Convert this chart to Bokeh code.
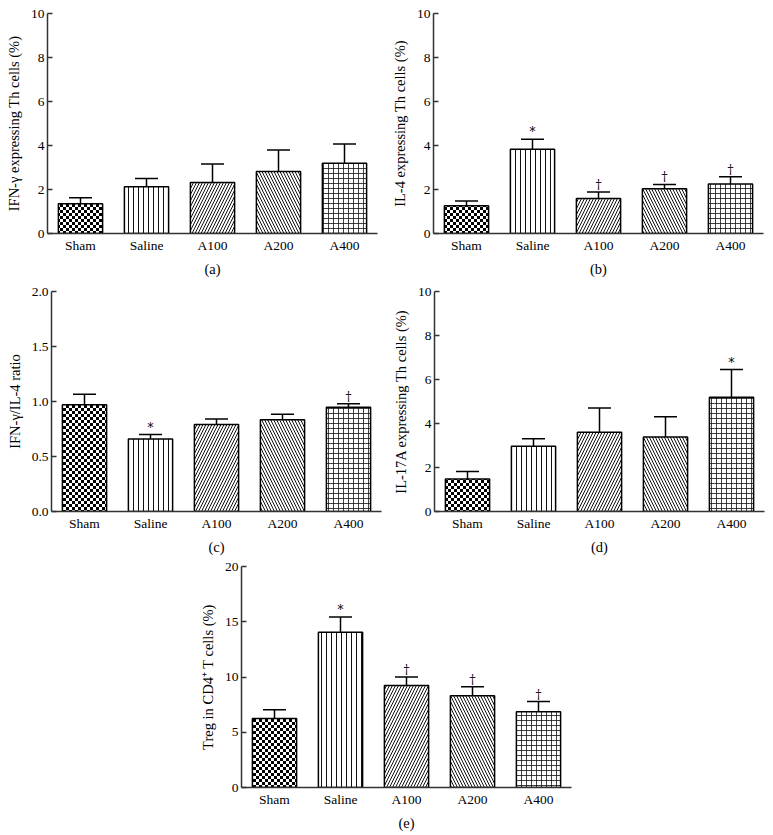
import base64
import struct
import zlib

from bokeh.plotting import figure
from bokeh.models import (ColumnDataSource, Whisker, TeeHead, FixedTicker, NumeralTickFormatter,
                          Range1d, Spacer, ImageURLTexture)
from bokeh.layouts import row, column
from bokeh.core.properties import value
from bokeh.embed import file_html
from bokeh.resources import INLINE

groups = ["Sham", "Saline", "A100", "A200", "A400"]

# (a) IFN-gamma expressing Th cells (%)
a_mean = [1.35, 2.12, 2.32, 2.82, 3.19]
a_upper = [1.62, 2.50, 3.16, 3.79, 4.07]
a_marks = ["", "", "", "", ""]

# (b) IL-4 expressing Th cells (%)
b_mean = [1.26, 3.83, 1.59, 2.03, 2.25]
b_upper = [1.48, 4.28, 1.89, 2.23, 2.58]
b_marks = ["", "*", "†", "†", "†"]

# (c) IFN-gamma / IL-4 ratio
c_mean = [0.97, 0.66, 0.79, 0.835, 0.948]
c_upper = [1.067, 0.70, 0.84, 0.885, 0.98]
c_marks = ["", "*", "", "", "†"]

# (d) IL-17A expressing Th cells (%)
d_mean = [1.48, 2.97, 3.60, 3.39, 5.19]
d_upper = [1.82, 3.31, 4.71, 4.31, 6.45]
d_marks = ["", "", "", "", "*"]

# (e) Treg in CD4+ T cells (%)
e_mean = [6.24, 14.06, 9.23, 8.30, 6.85]
e_upper = [7.03, 15.44, 10.00, 9.11, 7.78]
e_marks = ["", "*", "†", "†", "†"]

# bar fill styles (one per group)
patterns = ["checker", "|", "/", "\\", "+"]
hatch_scales = [6, 5, 6, 6, 5]
hatch_weights = [1, 1, 1, 1, 0.8]

FONT = "Liberation Serif"


def checker_png(cell=3):
    n = 2 * cell
    rows = []
    for j in range(n):
        rows.append(bytes([0 if ((i // cell) + (j // cell)) % 2 == 0 else 255 for i in range(n)]))
    raw = b"".join(b"\x00" + r for r in rows)

    def chunk(tag, data):
        c = tag + data
        return struct.pack(">I", len(data)) + c + struct.pack(">I", zlib.crc32(c) & 0xffffffff)

    png = b"\x89PNG\r\n\x1a\n" + chunk(b"IHDR", struct.pack(">IIBBBBB", n, n, 8, 0, 0, 0, 0)) \
        + chunk(b"IDAT", zlib.compress(raw)) + chunk(b"IEND", b"")
    return "data:image/png;base64," + base64.b64encode(png).decode()


CHECKER_URL = checker_png(3)


def panel(means, uppers, marks, ylabel, letter, ymax, ticks, fmt,
          fh, bl, br, bt, bb):
    src = ColumnDataSource(dict(x=groups, val=means, up=uppers, mark=marks,
                                pat=patterns, hs=hatch_scales, hw=hatch_weights))
    p = figure(x_range=groups, y_range=Range1d(0, ymax), frame_width=330, frame_height=fh,
               output_backend="svg", toolbar_location=None,
               min_border_left=bl, min_border_right=br, min_border_top=bt, min_border_bottom=bb)
    p.x_range.range_padding = 0
    p.vbar(x="x", top="val", width=0.67, source=src, fill_color="white",
           line_color="black", line_width=1.5, hatch_pattern="pat",
           hatch_scale="hs", hatch_weight="hw", hatch_color="#111111",
           hatch_extra={"checker": ImageURLTexture(url=CHECKER_URL, repetition="repeat")})
    w = Whisker(base="x", upper="up", lower="val", source=src, dimension="height",
                line_color="black", line_width=1.5,
                upper_head=TeeHead(size=23, line_color="black", line_width=1.5),
                lower_head=None)
    p.add_layout(w)
    p.text(x="x", y="up", text="mark", source=src, text_align="center",
           text_baseline="bottom", y_offset=0, text_font=value("DejaVu Serif"),
           text_font_size="12px", text_color="black")
    p.xgrid.visible = False
    p.ygrid.visible = False
    p.outline_line_color = None
    p.background_fill_color = "white"
    p.border_fill_color = "white"

    p.yaxis.ticker = FixedTicker(ticks=ticks)
    if fmt:
        p.yaxis.formatter = NumeralTickFormatter(format=fmt)
    for ax in (p.xaxis, p.yaxis):
        ax.axis_line_color = "#333333"
        ax.axis_line_width = 1.5
        ax.major_label_text_font = FONT
        ax.major_label_text_font_size = "13.5px"
        ax.major_label_text_color = "black"
        ax.axis_label_text_font = FONT
        ax.axis_label_text_font_size = "14.5px"
        ax.axis_label_text_font_style = "normal"
        ax.axis_label_text_color = "black"
        ax.minor_tick_line_color = None
    p.yaxis.major_tick_in = 5
    p.yaxis.major_tick_out = 0
    p.yaxis.major_tick_line_color = "#333333"
    p.yaxis.major_tick_line_width = 1.5
    p.yaxis.major_label_standoff = 3
    p.yaxis.axis_label = ylabel
    p.yaxis.axis_label_standoff = 6
    p.xaxis.major_tick_line_color = None
    p.xaxis.major_tick_in = 0
    p.xaxis.major_tick_out = 0
    p.xaxis.major_label_standoff = 4
    p.xaxis.axis_label = letter
    p.xaxis.axis_label_standoff = 5
    return p


pa = panel(a_mean, a_upper, a_marks, "IFN-γ expressing Th cells (%)", "(a)", 10,
           [0, 2, 4, 6, 8, 10], None, 220, 47, 10, 13, 52)
pb = panel(b_mean, b_upper, b_marks, "IL-4 expressing Th cells (%)", "(b)", 10,
           [0, 2, 4, 6, 8, 10], None, 220, 46, 1, 13, 52)
pc = panel(c_mean, c_upper, c_marks, "IFN-γ/IL-4 ratio", "(c)", 2.0,
           [0, 0.5, 1.0, 1.5, 2.0], "0.0", 220, 51, 7, 6, 46)
pd = panel(d_mean, d_upper, d_marks, "IL-17A expressing Th cells (%)", "(d)", 10,
           [0, 2, 4, 6, 8, 10], None, 220, 46, 1, 6, 46)
pe = panel(e_mean, e_upper, e_marks, "Treg in CD4⁺ T cells (%)", "(e)", 20,
           [0, 5, 10, 15, 20], None, 221, 48, 12, 9, 39)

layout = column(row(pa, pb), row(pc, pd), row(Spacer(width=193, height=269), pe))

open("out.html", "w").write(file_html(layout, INLINE))
